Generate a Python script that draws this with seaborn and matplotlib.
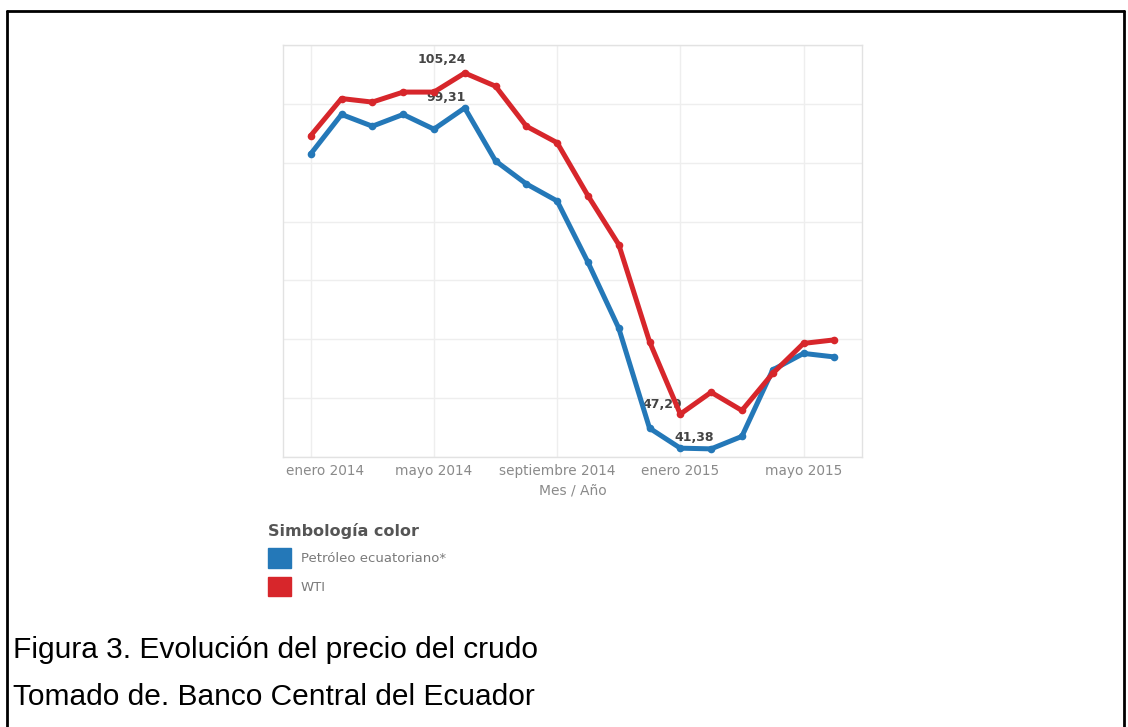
import matplotlib
matplotlib.use("Agg")
import matplotlib.pyplot as plt
from matplotlib.patches import Patch
from matplotlib.lines import Line2D
from matplotlib.transforms import ScaledTranslation
import seaborn as sns
import pandas as pd
import numpy as np

months = ["ene 2014", "feb 2014", "mar 2014", "abr 2014", "may 2014", "jun 2014",
          "jul 2014", "ago 2014", "sep 2014", "oct 2014", "nov 2014", "dic 2014",
          "ene 2015", "feb 2015", "mar 2015", "abr 2015", "may 2015", "jun 2015"]
ecuador = [91.5, 98.2, 96.2, 98.2, 95.7, 99.31, 90.3, 86.4, 83.5, 73.1, 61.9, 44.9,
           41.5, 41.38, 43.5, 54.8, 57.6, 57.0]
wti = [94.6, 100.9, 100.3, 102.0, 102.0, 105.24, 103.0, 96.2, 93.4, 84.4, 76.1, 59.6,
       47.29, 51.0, 47.9, 54.2, 59.3, 59.9]
series_names = ["Petróleo ecuatoriano*", "WTI"]
tick_idx = [0, 4, 8, 12, 16]
tick_labels = ["enero 2014", "mayo 2014", "septiembre 2014", "enero 2015", "mayo 2015"]
labels = [(5, 99.31, "99,31"), (5, 105.24, "105,24"), (13, 41.38, "41,38"), (12, 47.29, "47,29")]

colors = ["#2478b8", "#d7262b"]

df = pd.DataFrame({
    "idx": list(range(len(months))) * 2,
    "valor": ecuador + wti,
    "serie": [series_names[0]] * len(months) + [series_names[1]] * len(months),
})

sns.set_theme(style="white")
plt.rcParams["font.family"] = ["DejaVu Sans"]

fig = plt.figure(figsize=(11.28, 7.27), dpi=100)
ax = fig.add_axes([0.2509, 0.3714, 0.5133, 0.5667])

sns.lineplot(data=df, x="idx", y="valor", hue="serie", palette=colors,
             linewidth=3.6, marker="o", markersize=5.5, markeredgewidth=0,
             legend=False, ax=ax, zorder=3)

ax.set_xlim(-0.9, 17.9)
ax.set_ylim(40, 110)
ax.set_xticks(tick_idx)
ax.set_xticklabels(tick_labels, fontsize=9.8, color="#8a8a8a")
ax.set_yticks(np.arange(40, 111, 10))
ax.set_yticklabels([])
ax.tick_params(axis="both", length=0, pad=5)
ax.grid(True, color="#eeeeee", linewidth=1)
ax.set_xlabel("Mes / Año", fontsize=10, color="#8a8a8a", labelpad=4)
ax.set_ylabel("")
for s in ax.spines.values():
    s.set_color("#e2e2e2")
    s.set_linewidth(1)

# first tick label kept inside the panel
first = ax.get_xticklabels()[0]
first.set_transform(first.get_transform() + ScaledTranslation(0.14, 0, fig.dpi_scale_trans))

# value annotations (right edge at the point, drawn beneath the lines)
offsets = {"99,31": (1, 3), "105,24": (1, 5), "41,38": (2, 3.5), "47,29": (1, 2)}
for i, v, t in labels:
    dx, dy = offsets[t]
    ax.annotate(t, (i, v), xytext=(dx, dy), textcoords="offset points",
                ha="right", va="bottom", fontsize=9, fontweight="bold",
                color="#444444", zorder=1.5)

# legend
handles = [Patch(facecolor=colors[0], edgecolor=colors[0]),
           Patch(facecolor=colors[1], edgecolor=colors[1])]
leg = fig.legend(handles, series_names, loc="upper left", bbox_to_anchor=(0.2332, 0.288),
                 frameon=False, title="Simbología color", fontsize=9.5,
                 title_fontproperties={"size": 11.5, "weight": "bold"},
                 handlelength=1.75, handleheight=1.9, handletextpad=0.7,
                 labelspacing=0.7, borderaxespad=0)
leg._legend_box.align = "left"
leg.get_title().set_color("#555555")
for t in leg.get_texts():
    t.set_color("#7a7a7a")

# captions
fig.text(13 / 1128, 1 - 650 / 727, "Figura 3. Evolución del precio del crudo",
         fontsize=21.5, family=["Liberation Sans"], color="black", va="center", ha="left")
fig.text(13 / 1128, 1 - 697 / 727, "Tomado de. Banco Central del Ecuador",
         fontsize=21.5, family=["Liberation Sans"], color="black", va="center", ha="left")

# outer frame
lw = 2.0
fig.add_artist(Line2D([7 / 1128, 7 / 1128], [0, 1 - 11 / 727], transform=fig.transFigure, color="black", linewidth=lw))
fig.add_artist(Line2D([7 / 1128, 1124 / 1128], [1 - 11 / 727, 1 - 11 / 727], transform=fig.transFigure, color="black", linewidth=lw))
fig.add_artist(Line2D([1124 / 1128, 1124 / 1128], [0, 1 - 11 / 727], transform=fig.transFigure, color="black", linewidth=lw))

fig.savefig("out.png", dpi=100)
